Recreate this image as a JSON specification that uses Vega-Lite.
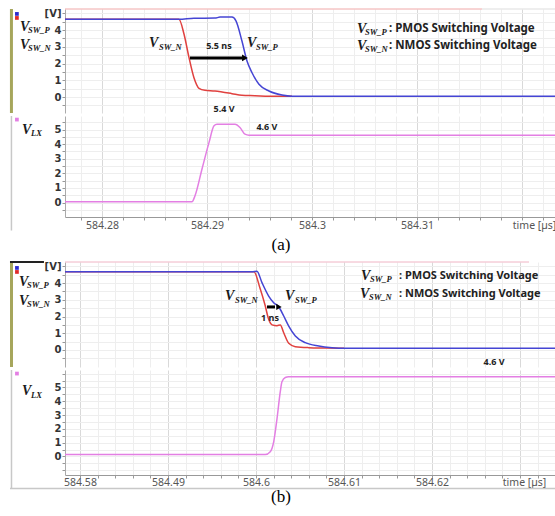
{
"$schema": "https://vega.github.io/schema/vega-lite/v6.json",
"background": "white",
"padding": {"left": 8, "top": 7, "right": 0, "bottom": 0},
"spacing": 6,
"config": {"view": {"stroke": null}, "axis": {"labelFont": "Noto Sans"}},
"datasets": {
"aT_lines": [
{"s":"P","t":584.27648,"v":4.64},{"s":"P","t":584.28733,"v":4.64},{"s":"P","t":584.28876,"v":4.7},{"s":"P","t":584.29076,"v":4.71},{"s":"P","t":584.29124,"v":4.77},{"s":"P","t":584.29238,"v":4.77},{"s":"P","t":584.29276,"v":4.55},{"s":"P","t":584.29333,"v":3.34},{"s":"P","t":584.29381,"v":2.15},{"s":"P","t":584.29429,"v":1.45},{"s":"P","t":584.29495,"v":0.76},{"s":"P","t":584.2959,"v":0.36},{"s":"P","t":584.29714,"v":0.12},{"s":"P","t":584.2981,"v":0.05},{"s":"P","t":584.32333,"v":0.05},
{"s":"N","t":584.27648,"v":4.64},{"s":"N","t":584.28733,"v":4.64},{"s":"N","t":584.28781,"v":3.76},{"s":"N","t":584.28829,"v":2.35},{"s":"N","t":584.28876,"v":1.15},{"s":"N","t":584.28924,"v":0.52},{"s":"N","t":584.28981,"v":0.4},{"s":"N","t":584.29076,"v":0.36},{"s":"N","t":584.29143,"v":0.3},{"s":"N","t":584.29238,"v":0.2},{"s":"N","t":584.29333,"v":0.1},{"s":"N","t":584.29457,"v":0.08},{"s":"N","t":584.2959,"v":0.05},{"s":"N","t":584.2981,"v":0.05}
],
"aT_txt": [
{"t":584.27219,"v":4.18,"txt":"V","k":"V"},{"t":584.27295,"v":4.0,"txt":"SW_P","k":"sub"},
{"t":584.27219,"v":3.1,"txt":"V","k":"V"},{"t":584.27295,"v":2.93,"txt":"SW_N","k":"sub"},
{"t":584.28448,"v":3.22,"txt":"V","k":"V"},{"t":584.28543,"v":2.99,"txt":"SW_N","k":"sub"},
{"t":584.29381,"v":3.22,"txt":"V","k":"V"},{"t":584.29467,"v":2.99,"txt":"SW_P","k":"sub"},
{"t":584.29114,"v":3.04,"txt":"5.5 ns","k":"note"},
{"t":584.29162,"v":-0.72,"txt":"5.4 V","k":"note"},
{"t":584.30429,"v":4.06,"txt":"V","k":"V"},{"t":584.30505,"v":3.88,"txt":"SW_P","k":"sub"},{"t":584.30733,"v":4.06,"txt":": PMOS Switching Voltage","k":"desc"},
{"t":584.30429,"v":3.04,"txt":"V","k":"V"},{"t":584.30505,"v":2.87,"txt":"SW_N","k":"sub"},{"t":584.30733,"v":3.04,"txt":": NMOS Switching Voltage","k":"desc"}
],
"aT_pt": [{"t":584.2719,"v":4.96,"k":"P"},{"t":584.2719,"v":4.72,"k":"N"},{"t":584.29362,"v":2.33,"k":"head"}],
"aT_vr": [{"t":584.27138,"v":5.254,"v2":-0.955,"k":"olive"}],
"aT_hr": [{"t":584.27648,"t2":584.31619,"v":5.254,"k":"top"},{"t":584.31619,"t2":584.32333,"v":5.254,"k":"topgray"},{"t":584.28838,"t2":584.2934,"v":2.33,"k":"arrow"}],
"aB_lines": [
{"t":584.27648,"v":0.05},{"t":584.28857,"v":0.05},{"t":584.28886,"v":0.46},{"t":584.28952,"v":2.28},{"t":584.29019,"v":4.1},{"t":584.29067,"v":5.25},{"t":584.29095,"v":5.36},{"t":584.29267,"v":5.36},{"t":584.29314,"v":5.14},{"t":584.29362,"v":4.68},{"t":584.294,"v":4.61},{"t":584.32333,"v":4.61}
],
"aB_txt": [{"t":584.27238,"v":5.0,"txt":"V","k":"V"},{"t":584.27324,"v":4.79,"txt":"LX","k":"sub"},{"t":584.29571,"v":5.14,"txt":"4.6 V","k":"note"}],
"aB_pt": [{"t":584.2719,"v":5.68,"k":"LX"}],
"aB_vr": [{"t":584.27138,"v":5.925,"v2":-1.92,"k":"gray"}],
"bT_lines": [
{"s":"P","t":584.5783,"v":4.67},{"s":"P","t":584.59955,"v":4.67},{"s":"P","t":584.60011,"v":4.7},{"s":"P","t":584.60068,"v":4.02},{"s":"P","t":584.60144,"v":3.22},{"s":"P","t":584.60201,"v":2.82},{"s":"P","t":584.60258,"v":2.58},{"s":"P","t":584.60315,"v":2.03},{"s":"P","t":584.60372,"v":1.43},{"s":"P","t":584.60447,"v":0.84},{"s":"P","t":584.6056,"v":0.44},{"s":"P","t":584.60713,"v":0.24},{"s":"P","t":584.60864,"v":0.14},{"s":"P","t":584.61,"v":0.1},{"s":"P","t":584.6342,"v":0.1},
{"s":"N","t":584.5783,"v":4.67},{"s":"N","t":584.59977,"v":4.67},{"s":"N","t":584.60045,"v":3.7},{"s":"N","t":584.60102,"v":2.7},{"s":"N","t":584.60144,"v":1.83},{"s":"N","t":584.60182,"v":1.5},{"s":"N","t":584.60239,"v":1.45},{"s":"N","t":584.60276,"v":1.5},{"s":"N","t":584.60315,"v":1.03},{"s":"N","t":584.60372,"v":0.4},{"s":"N","t":584.60447,"v":0.2},{"s":"N","t":584.60599,"v":0.14},{"s":"N","t":584.60784,"v":0.12},{"s":"N","t":584.61,"v":0.1}
],
"bT_txt": [
{"t":584.57307,"v":4.06,"txt":"V","k":"V"},{"t":584.57398,"v":3.88,"txt":"SW_P","k":"sub"},
{"t":584.57307,"v":2.93,"txt":"V","k":"V"},{"t":584.57398,"v":2.75,"txt":"SW_N","k":"sub"},
{"t":584.59648,"v":3.22,"txt":"V","k":"V"},{"t":584.59761,"v":2.99,"txt":"SW_N","k":"sub"},
{"t":584.6033,"v":3.22,"txt":"V","k":"V"},{"t":584.60443,"v":2.99,"txt":"SW_P","k":"sub"},
{"t":584.60159,"v":1.91,"txt":"1 ns","k":"note"},
{"t":584.62705,"v":-0.72,"txt":"4.6 V","k":"note"},
{"t":584.61193,"v":4.42,"txt":"V","k":"V"},{"t":584.61295,"v":4.24,"txt":"SW_P","k":"sub"},{"t":584.61625,"v":4.42,"txt":": PMOS Switching Voltage","k":"desc"},
{"t":584.61182,"v":3.34,"txt":"V","k":"V"},{"t":584.61284,"v":3.16,"txt":"SW_N","k":"sub"},{"t":584.61625,"v":3.34,"txt":": NMOS Switching Voltage","k":"desc"}
],
"bT_pt": [{"t":584.57284,"v":4.9,"k":"P"},{"t":584.57284,"v":4.66,"k":"N"},{"t":584.60261,"v":2.57,"k":"head"}],
"bT_vr": [{"t":584.57222,"v":5.254,"v2":-1.015,"k":"olive"}],
"bT_hr": [{"t":584.57205,"t2":584.57591,"v":5.254,"k":"black"},{"t":584.5783,"t2":584.63102,"v":5.254,"k":"top"},{"t":584.60125,"t2":584.60216,"v":2.57,"k":"arrow"}],
"bB_lines": [
{"t":584.5783,"v":0.14},{"t":584.60106,"v":0.14},{"t":584.60162,"v":0.34},{"t":584.60201,"v":1.06},{"t":584.60239,"v":2.75},{"t":584.60276,"v":4.7},{"t":584.60295,"v":5.41},{"t":584.60333,"v":5.72},{"t":584.6037,"v":5.77},{"t":584.6342,"v":5.77}
],
"bB_txt": [{"t":584.57341,"v":4.71,"txt":"V","k":"V"},{"t":584.57443,"v":4.49,"txt":"LX","k":"sub"}],
"bB_pt": [{"t":584.57284,"v":6.01,"k":"LX"}],
"bB_vr": [{"t":584.57222,"v":6.268,"v2":-2.32,"k":"gray"}],
"bB_hr": [{"t":584.57205,"t2":584.6342,"v":-2.32,"k":"bottom"}]
},
"vconcat": [
{
"spacing": 0,
"vconcat": [
{
"width": 492, "height": 104,
"encoding": {
"x": {"field":"t","type":"quantitative","scale":{"domain":[584.27648,584.32333],"nice":false,"zero":false},
 "axis":{"values":[584.278,584.28,584.282,584.284,584.286,584.288,584.29,584.292,584.294,584.296,584.298,584.3,584.302,584.304,584.306,584.308,584.31,584.312,584.314,584.316,584.318,584.32,584.322],
 "title":null,"labels":false,"ticks":false,"domain":false,"grid":true,
 "gridColor":{"condition":{"test":"abs(datum.value*100-round(datum.value*100))<0.001","value":"#d9d9d9"},"value":"#eeeeee"}}},
"y": {"field":"v","type":"quantitative","scale":{"domain":[-0.955,5.254],"nice":false,"zero":false},
 "axis":{"values":[-0.5,0,0.5,1,1.5,2,2.5,3,3.5,4,4.5,5],"title":null,"grid":true,"gridColor":"#eeeeee","domainColor":"#aaaaaa","tickColor":"#999999","tickSize":3,"labelPadding":1,"labelFont":"DejaVu Sans","labelFontWeight":"bold","labelFontSize":10,"labelColor":"#333333",
 "labelExpr":"datum.value==5 ? '[V]' : (datum.value==round(datum.value) && datum.value>=0 ? format(datum.value,'.0f') : '')"}}
},
"layer": [
{"data":{"name":"aT_vr"},"mark":{"type":"rule","color":"#a6a65c","strokeWidth":3},"encoding":{"y2":{"field":"v2"}}},
{"data":{"name":"aT_hr"},"transform":[{"filter":"datum.k=='top'"}],"mark":{"type":"rule","color":"#f0a8a8","strokeWidth":1},"encoding":{"x2":{"field":"t2"}}},
{"data":{"name":"aT_hr"},"transform":[{"filter":"datum.k=='topgray'"}],"mark":{"type":"rule","color":"#dddddd","strokeWidth":1},"encoding":{"x2":{"field":"t2"}}},
{"data":{"name":"aT_lines"},"transform":[{"filter":"datum.s=='N'"}],"mark":{"type":"line","interpolate":"monotone","color":"#e0413f","strokeWidth":1.5}},
{"data":{"name":"aT_lines"},"transform":[{"filter":"datum.s=='P'"}],"mark":{"type":"line","interpolate":"monotone","color":"#4545d4","strokeWidth":1.5}},
{"data":{"name":"aT_hr"},"transform":[{"filter":"datum.k=='arrow'"}],"mark":{"type":"rule","color":"#000000","strokeWidth":3},"encoding":{"x2":{"field":"t2"}}},
{"data":{"name":"aT_pt"},"transform":[{"filter":"datum.k=='head'"}],"mark":{"type":"point","shape":"triangle-right","filled":true,"size":45,"color":"#000000","opacity":1}},
{"data":{"name":"aT_pt"},"transform":[{"filter":"datum.k=='P'"}],"mark":{"type":"square","color":"#2b2bd0","size":14,"opacity":1}},
{"data":{"name":"aT_pt"},"transform":[{"filter":"datum.k=='N'"}],"mark":{"type":"square","color":"#e02b2b","size":14,"opacity":1}},
{"data":{"name":"aT_txt"},"transform":[{"filter":"datum.k=='V'"}],"mark":{"type":"text","font":"Liberation Serif","fontStyle":"italic","fontWeight":"bold","fontSize":14,"align":"left","baseline":"middle","color":"#1a1a1a"},"encoding":{"text":{"field":"txt"}}},
{"data":{"name":"aT_txt"},"transform":[{"filter":"datum.k=='sub'"}],"mark":{"type":"text","font":"Liberation Serif","fontStyle":"italic","fontWeight":"bold","fontSize":8.5,"align":"left","baseline":"middle","color":"#1a1a1a"},"encoding":{"text":{"field":"txt"}}},
{"data":{"name":"aT_txt"},"transform":[{"filter":"datum.k=='desc'"}],"mark":{"type":"text","font":"Noto Sans","fontWeight":"bold","fontSize":11.5,"align":"left","baseline":"middle","color":"#222222"},"encoding":{"text":{"field":"txt"}}},
{"data":{"name":"aT_txt"},"transform":[{"filter":"datum.k=='note'"}],"mark":{"type":"text","font":"Noto Sans","fontWeight":"bold","fontSize":9,"align":"center","baseline":"middle","color":"#222222"},"encoding":{"text":{"field":"txt"}}}
]
},
{
"width": 492, "height": 101,
"title": {"text":"(a)","orient":"bottom","font":"Liberation Serif","fontSize":17,"fontWeight":"normal","color":"#000000","offset":6,"frame":"group","anchor":"middle","dx":-30},
"encoding": {
"x": {"field":"t","type":"quantitative","scale":{"domain":[584.27648,584.32333],"nice":false,"zero":false},
 "axis":{"values":[584.278,584.28,584.282,584.284,584.286,584.288,584.29,584.292,584.294,584.296,584.298,584.3,584.302,584.304,584.306,584.308,584.31,584.312,584.314,584.316,584.318,584.32,584.322],
 "title":null,"grid":true,"gridColor":{"condition":{"test":"abs(datum.value*100-round(datum.value*100))<0.001","value":"#d9d9d9"},"value":"#eeeeee"},
 "domainColor":"#999999","tickColor":"#999999","tickSize":3,"labelPadding":0,"labelFontSize":10.5,"labelColor":"#555555","labelOverlap":false,"labelFlush":false,
 "labelOffset":{"condition":{"test":"abs(datum.value-584.32)<0.0001","value":12},"value":0},
 "labelExpr":"abs(datum.value-584.32)<0.0001 ? 'time [µs]' : (abs(datum.value*100-round(datum.value*100))<0.001 ? format(datum.value,'~g') : '')"}},
"y": {"field":"v","type":"quantitative","scale":{"domain":[-0.993,5.925],"nice":false,"zero":false},
 "axis":{"values":[-0.5,0,0.5,1,1.5,2,2.5,3,3.5,4,4.5,5,5.5],"title":null,"grid":true,"gridColor":"#eeeeee","domainColor":"#aaaaaa","tickColor":"#999999","tickSize":3,"labelPadding":1,"labelFont":"DejaVu Sans","labelFontWeight":"bold","labelFontSize":10,"labelColor":"#333333",
 "labelExpr":"datum.value==round(datum.value) && datum.value>=0 ? format(datum.value,'.0f') : ''"}}
},
"layer": [
{"data":{"name":"aB_vr"},"mark":{"type":"rule","color":"#c8c8c8","strokeWidth":1.5},"encoding":{"y2":{"field":"v2"}}},
{"data":{"name":"aB_lines"},"mark":{"type":"line","interpolate":"monotone","color":"#e37fe3","strokeWidth":1.5}},
{"data":{"name":"aB_pt"},"mark":{"type":"square","color":"#e37fe3","size":14,"opacity":1}},
{"data":{"name":"aB_txt"},"transform":[{"filter":"datum.k=='V'"}],"mark":{"type":"text","font":"Liberation Serif","fontStyle":"italic","fontWeight":"bold","fontSize":14,"align":"left","baseline":"middle","color":"#1a1a1a"},"encoding":{"text":{"field":"txt"}}},
{"data":{"name":"aB_txt"},"transform":[{"filter":"datum.k=='sub'"}],"mark":{"type":"text","font":"Liberation Serif","fontStyle":"italic","fontWeight":"bold","fontSize":8.5,"align":"left","baseline":"middle","color":"#1a1a1a"},"encoding":{"text":{"field":"txt"}}},
{"data":{"name":"aB_txt"},"transform":[{"filter":"datum.k=='note'"}],"mark":{"type":"text","font":"Noto Sans","fontWeight":"bold","fontSize":9,"align":"center","baseline":"middle","color":"#222222"},"encoding":{"text":{"field":"txt"}}}
]
}
]
},
{
"spacing": 0,
"vconcat": [
{
"width": 492, "height": 105,
"encoding": {
"x": {"field":"t","type":"quantitative","scale":{"domain":[584.5783,584.6342],"nice":false,"zero":false},
 "axis":{"values":[584.58,584.582,584.584,584.586,584.588,584.59,584.592,584.594,584.596,584.598,584.6,584.602,584.604,584.606,584.608,584.61,584.612,584.614,584.616,584.618,584.62,584.622,584.624,584.626,584.628,584.63,584.632,584.634],
 "title":null,"labels":false,"ticks":false,"domain":false,"grid":true,
 "gridColor":{"condition":{"test":"abs(datum.value*100-round(datum.value*100))<0.001","value":"#d9d9d9"},"value":"#eeeeee"}}},
"y": {"field":"v","type":"quantitative","scale":{"domain":[-1.015,5.254],"nice":false,"zero":false},
 "axis":{"values":[-0.5,0,0.5,1,1.5,2,2.5,3,3.5,4,4.5,5],"title":null,"grid":true,"gridColor":"#eeeeee","domainColor":"#aaaaaa","tickColor":"#999999","tickSize":3,"labelPadding":1,"labelFont":"DejaVu Sans","labelFontWeight":"bold","labelFontSize":10,"labelColor":"#333333",
 "labelExpr":"datum.value==5 ? '[V]' : (datum.value==round(datum.value) && datum.value>=0 ? format(datum.value,'.0f') : '')"}}
},
"layer": [
{"data":{"name":"bT_vr"},"mark":{"type":"rule","color":"#a6a65c","strokeWidth":3},"encoding":{"y2":{"field":"v2"}}},
{"data":{"name":"bT_hr"},"transform":[{"filter":"datum.k=='top'"}],"mark":{"type":"rule","color":"#f0b4c4","strokeWidth":1},"encoding":{"x2":{"field":"t2"}}},
{"data":{"name":"bT_hr"},"transform":[{"filter":"datum.k=='black'"}],"mark":{"type":"rule","color":"#222222","strokeWidth":2},"encoding":{"x2":{"field":"t2"}}},
{"data":{"name":"bT_lines"},"transform":[{"filter":"datum.s=='N'"}],"mark":{"type":"line","interpolate":"monotone","color":"#e0413f","strokeWidth":1.5}},
{"data":{"name":"bT_lines"},"transform":[{"filter":"datum.s=='P'"}],"mark":{"type":"line","interpolate":"monotone","color":"#4545d4","strokeWidth":1.5}},
{"data":{"name":"bT_hr"},"transform":[{"filter":"datum.k=='arrow'"}],"mark":{"type":"rule","color":"#000000","strokeWidth":3},"encoding":{"x2":{"field":"t2"}}},
{"data":{"name":"bT_pt"},"transform":[{"filter":"datum.k=='head'"}],"mark":{"type":"point","shape":"triangle-right","filled":true,"size":40,"color":"#000000","opacity":1}},
{"data":{"name":"bT_pt"},"transform":[{"filter":"datum.k=='P'"}],"mark":{"type":"square","color":"#2b2bd0","size":14,"opacity":1}},
{"data":{"name":"bT_pt"},"transform":[{"filter":"datum.k=='N'"}],"mark":{"type":"square","color":"#e02b2b","size":14,"opacity":1}},
{"data":{"name":"bT_txt"},"transform":[{"filter":"datum.k=='V'"}],"mark":{"type":"text","font":"Liberation Serif","fontStyle":"italic","fontWeight":"bold","fontSize":14,"align":"left","baseline":"middle","color":"#1a1a1a"},"encoding":{"text":{"field":"txt"}}},
{"data":{"name":"bT_txt"},"transform":[{"filter":"datum.k=='sub'"}],"mark":{"type":"text","font":"Liberation Serif","fontStyle":"italic","fontWeight":"bold","fontSize":8.5,"align":"left","baseline":"middle","color":"#1a1a1a"},"encoding":{"text":{"field":"txt"}}},
{"data":{"name":"bT_txt"},"transform":[{"filter":"datum.k=='desc'"}],"mark":{"type":"text","font":"Noto Sans","fontWeight":"bold","fontSize":11,"align":"left","baseline":"middle","color":"#222222"},"encoding":{"text":{"field":"txt"}}},
{"data":{"name":"bT_txt"},"transform":[{"filter":"datum.k=='note'"}],"mark":{"type":"text","font":"Noto Sans","fontWeight":"bold","fontSize":9,"align":"center","baseline":"middle","color":"#222222"},"encoding":{"text":{"field":"txt"}}}
]
},
{
"width": 492, "height": 105,
"title": {"text":"(b)","orient":"bottom","font":"Liberation Serif","fontSize":17,"fontWeight":"normal","color":"#000000","offset":0,"frame":"group","anchor":"middle","dx":-30},
"encoding": {
"x": {"field":"t","type":"quantitative","scale":{"domain":[584.5783,584.6342],"nice":false,"zero":false},
 "axis":{"values":[584.58,584.582,584.584,584.586,584.588,584.59,584.592,584.594,584.596,584.598,584.6,584.602,584.604,584.606,584.608,584.61,584.612,584.614,584.616,584.618,584.62,584.622,584.624,584.626,584.628,584.63,584.632,584.634],
 "title":null,"grid":true,"gridColor":{"condition":{"test":"abs(datum.value*100-round(datum.value*100))<0.001","value":"#d9d9d9"},"value":"#eeeeee"},
 "domainColor":"#999999","tickColor":"#999999","tickSize":3,"labelPadding":-1,"labelFontSize":10.5,"labelColor":"#555555","labelOverlap":false,"labelFlush":false,
 "labelOffset":{"condition":{"test":"abs(datum.value-584.63)<0.0001","value":4},"value":0},
 "labelExpr":"abs(datum.value-584.63)<0.0001 ? 'time [µs]' : (abs(datum.value-584.59)<0.0001 ? '584.49' : (abs(datum.value*100-round(datum.value*100))<0.001 ? format(datum.value,'~g') : ''))"}},
"y": {"field":"v","type":"quantitative","scale":{"domain":[-1.341,6.268],"nice":false,"zero":false},
 "axis":{"values":[-1,-0.5,0,0.5,1,1.5,2,2.5,3,3.5,4,4.5,5,5.5,6],"title":null,"grid":true,"gridColor":"#eeeeee","domainColor":"#aaaaaa","tickColor":"#999999","tickSize":3,"labelPadding":1,"labelFont":"DejaVu Sans","labelFontWeight":"bold","labelFontSize":10,"labelColor":"#333333",
 "labelExpr":"datum.value==round(datum.value) && datum.value>=0 && datum.value<=5 ? format(datum.value,'.0f') : ''"}}
},
"layer": [
{"data":{"name":"bB_vr"},"mark":{"type":"rule","color":"#c8c8c8","strokeWidth":1.5},"encoding":{"y2":{"field":"v2"}}},
{"data":{"name":"bB_hr"},"mark":{"type":"rule","color":"#c8c8c8","strokeWidth":1.5},"encoding":{"x2":{"field":"t2"}}},
{"data":{"name":"bB_lines"},"mark":{"type":"line","interpolate":"monotone","color":"#e37fe3","strokeWidth":1.5}},
{"data":{"name":"bB_pt"},"mark":{"type":"square","color":"#e37fe3","size":14,"opacity":1}},
{"data":{"name":"bB_txt"},"transform":[{"filter":"datum.k=='V'"}],"mark":{"type":"text","font":"Liberation Serif","fontStyle":"italic","fontWeight":"bold","fontSize":14,"align":"left","baseline":"middle","color":"#1a1a1a"},"encoding":{"text":{"field":"txt"}}},
{"data":{"name":"bB_txt"},"transform":[{"filter":"datum.k=='sub'"}],"mark":{"type":"text","font":"Liberation Serif","fontStyle":"italic","fontWeight":"bold","fontSize":8.5,"align":"left","baseline":"middle","color":"#1a1a1a"},"encoding":{"text":{"field":"txt"}}}
]
}
]
}
]
}
